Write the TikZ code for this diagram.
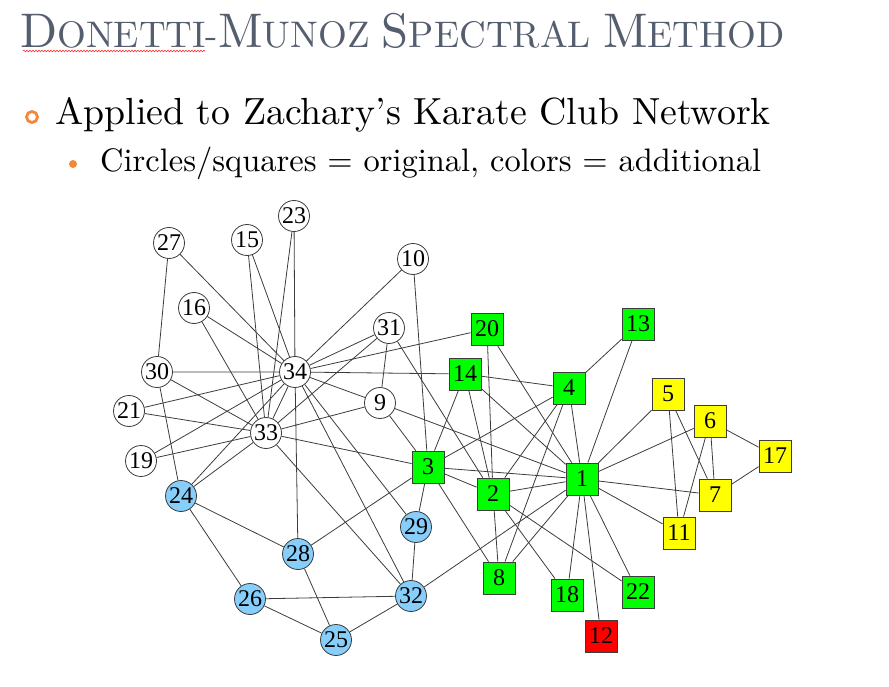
\documentclass[tikz,border=0pt]{standalone}
\usepackage{fontspec}
\setmainfont{lmroman10-regular.otf}
\newfontfamily\labelfont{Liberation Serif}
\usepackage{tikz}
\usetikzlibrary{backgrounds, decorations.pathmorphing}

\definecolor{titlegray}{RGB}{84,94,110}
\definecolor{bulletorange}{RGB}{245,135,55}
\definecolor{facblue}{RGB}{135,206,250}
\definecolor{facgreen}{RGB}{0,255,0}
\definecolor{facyellow}{RGB}{255,255,0}
\definecolor{facred}{RGB}{255,0,0}
\definecolor{edgegray}{RGB}{60,60,60}

% capital followed by smaller capitals
\newcommand{\capsword}[2]{{\fontsize{48.6}{48.6}\selectfont #1}{\fontsize{37}{37}\selectfont #2}}

\begin{document}
\begin{tikzpicture}[
    x=1pt, y=-1pt,
    slide/.style={anchor=base west, inner sep=0pt},
    member/.style={circle, draw=edgegray, line width=0.8pt, minimum size=31pt, inner sep=0pt, fill=white, font=\labelfont\fontsize{24}{24}\selectfont},
    square/.style={rectangle, draw=edgegray, line width=0.8pt, minimum size=32pt, inner sep=0pt, font=\labelfont\fontsize{24}{24}\selectfont},
    tie/.style={draw=edgegray, line width=0.8pt}
]
    \useasboundingbox (0,0) rectangle (889,687);

    % Title and bullets
    \node[slide, text=titlegray, font=\fontsize{37}{37}\selectfont] (title) at (20,48) {\capsword{D}{ONETTI-}\capsword{M}{UNOZ} \capsword{S}{PECTRAL} \capsword{M}{ETHOD}};
    \draw[red!80, line width=0.6pt, decorate, decoration={snake, amplitude=0.8pt, segment length=3pt}] (23,51) -- (205,51);
    \node[circle, draw=bulletorange, line width=2.8pt, minimum size=11pt, inner sep=0pt] (ring) at (32,117) {};
    \node[slide, font=\fontsize{37.8}{37.8}\selectfont] (point) at (55,125) {Applied to Zachary's Karate Club Network};
    \node[circle, fill=bulletorange, minimum size=8pt, inner sep=0pt] (dot) at (73,164) {};
    \node[slide, font=\fontsize{32.5}{32.5}\selectfont] (subpoint) at (100,172) {Circles/squares = original, colors = additional};

    % Circles, no extra colour
    \node[member] (m27) at (169,243) {27};
    \node[member] (m15) at (247,240) {15};
    \node[member] (m23) at (294,216) {23};
    \node[member] (m10) at (413,259) {10};
    \node[member] (m16) at (194,308) {16};
    \node[member] (m31) at (389,328) {31};
    \node[member] (m30) at (157,372) {30};
    \node[member] (m34) at (295,372) {34};
    \node[member] (m21) at (129,411) {21};
    \node[member] (m9)  at (380,403) {9};
    \node[member] (m33) at (266,433) {33};
    \node[member] (m19) at (141,461) {19};

    % Circles, blue
    \node[member, fill=facblue] (m24) at (181,496) {24};
    \node[member, fill=facblue] (m28) at (298,554) {28};
    \node[member, fill=facblue] (m29) at (416,527) {29};
    \node[member, fill=facblue] (m26) at (250,599) {26};
    \node[member, fill=facblue] (m32) at (411,596) {32};
    \node[member, fill=facblue] (m25) at (336,640) {25};

    % Squares, green
    \node[square, fill=facgreen] (m20) at (487,329) {20};
    \node[square, fill=facgreen] (m14) at (465,374) {14};
    \node[square, fill=facgreen] (m4)  at (569,388) {4};
    \node[square, fill=facgreen] (m13) at (638,324) {13};
    \node[square, fill=facgreen] (m1)  at (582,479) {1};
    \node[square, fill=facgreen] (m3)  at (428,467) {3};
    \node[square, fill=facgreen] (m2)  at (493,494) {2};
    \node[square, fill=facgreen] (m8)  at (499,578) {8};
    \node[square, fill=facgreen] (m18) at (567,595) {18};
    \node[square, fill=facgreen] (m22) at (638,592) {22};

    % Squares, yellow and red
    \node[square, fill=facyellow] (m5)  at (668,394) {5};
    \node[square, fill=facyellow] (m6)  at (710,421) {6};
    \node[square, fill=facyellow] (m17) at (775,456) {17};
    \node[square, fill=facyellow] (m7)  at (715,495) {7};
    \node[square, fill=facyellow] (m11) at (679,533) {11};
    \node[square, fill=facred]    (m12) at (601,636) {12};

    % Ties
    \begin{scope}[on background layer]
    \draw[tie] (m1) -- (m2) (m1) -- (m3) (m1) -- (m4) (m1) -- (m5) (m1) -- (m6) (m1) -- (m7) (m1) -- (m8) (m1) -- (m9);
    \draw[tie] (m1) -- (m11) (m1) -- (m12) (m1) -- (m13) (m1) -- (m14) (m1) -- (m18) (m1) -- (m20) (m1) -- (m22) (m1) -- (m32);
    \draw[tie] (m2) -- (m3) (m2) -- (m4) (m2) -- (m8) (m2) -- (m14) (m2) -- (m18) (m2) -- (m20) (m2) -- (m22) (m2) -- (m31);
    \draw[tie] (m3) -- (m4) (m3) -- (m8) (m3) -- (m9) (m3) -- (m10) (m3) -- (m14) (m3) -- (m28) (m3) -- (m29) (m3) -- (m33);
    \draw[tie] (m4) -- (m8) (m4) -- (m13) (m4) -- (m14);
    \draw[tie] (m5) -- (m7) (m5) -- (m11) (m6) -- (m7) (m6) -- (m11) (m6) -- (m17) (m7) -- (m17);
    \draw[tie] (m9) -- (m31) (m9) -- (m33) (m9) -- (m34) (m10) -- (m34) (m14) -- (m34);
    \draw[tie] (m15) -- (m33) (m15) -- (m34) (m16) -- (m33) (m16) -- (m34) (m19) -- (m33) (m19) -- (m34);
    \draw[tie] (m20) -- (m34) (m21) -- (m33) (m21) -- (m34) (m23) -- (m33) (m23) -- (m34);
    \draw[tie] (m24) -- (m26) (m24) -- (m28) (m24) -- (m30) (m24) -- (m33) (m24) -- (m34);
    \draw[tie] (m25) -- (m26) (m25) -- (m28) (m25) -- (m32) (m26) -- (m32) (m27) -- (m30) (m27) -- (m34);
    \draw[tie] (m28) -- (m34) (m29) -- (m32) (m29) -- (m34) (m30) -- (m33) (m30) -- (m34);
    \draw[tie] (m31) -- (m33) (m31) -- (m34) (m32) -- (m33) (m32) -- (m34) (m33) -- (m34);
    \end{scope}
\end{tikzpicture}
\end{document}
